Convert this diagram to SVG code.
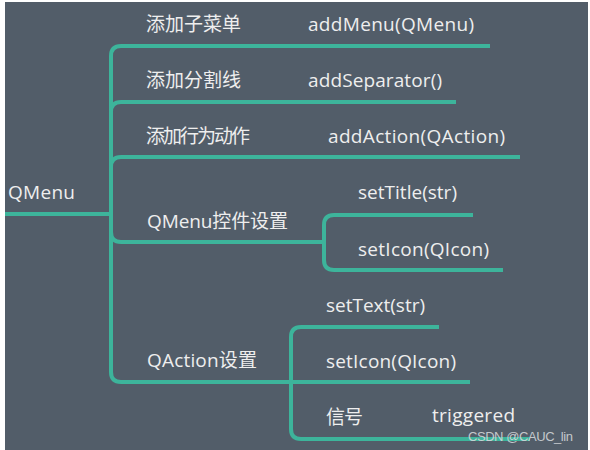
<svg xmlns="http://www.w3.org/2000/svg" width="590" height="450" viewBox="0 0 590 450">
<style>
.bg{fill:#525d69}
.ln{fill:none;stroke:#3db49b;stroke-width:4;stroke-linecap:butt;stroke-linejoin:round}
text{font-family:"Open Sans","Noto Sans CJK SC",sans-serif;font-size:19px;fill:#eeeeee}
.wm{font-family:"Liberation Sans",Arial,sans-serif;font-size:13px;fill:#d8dbde;opacity:0.85}
</style>
<rect x="0" y="0" width="590" height="450" fill="#ffffff"/>
<rect class="bg" x="5" y="2" width="583" height="448"/>
<g id="connectors">
<path class="ln" d="M5 214 H111"/>
<path class="ln" d="M111 214 V56 Q111 46 121 46 H490"/>
<path class="ln" d="M111 214 V112 Q111 102 121 102 H456"/>
<path class="ln" d="M111 214 V167 Q111 157 121 157 H520"/>
<path class="ln" d="M111 214 V232 Q111 242 121 242 H324"/>
<path class="ln" d="M111 214 V372 Q111 382 121 382 H291"/>
<path class="ln" d="M324 242 V225 Q324 215 334 215 H473"/>
<path class="ln" d="M324 242 V260 Q324 270 334 270 H503"/>
<path class="ln" d="M291 382 V337 Q291 327 301 327 H439"/>
<path class="ln" d="M291 382 H470"/>
<path class="ln" d="M291 382 V429 Q291 439 301 439 H530"/>
</g>
<g id="root"><text x="8" y="199" textLength="67">QMenu</text></g>
<g id="n-addmenu">
<text x="146" y="31">添加子菜单</text>
<text x="308" y="31" textLength="166">addMenu(QMenu)</text>
</g>
<g id="n-addsep">
<text x="146" y="87">添加分割线</text>
<text x="308" y="87" textLength="134">addSeparator()</text>
</g>
<g id="n-addaction">
<text x="146" y="143" textLength="104">添加行为动作</text>
<text x="328" y="143" textLength="177">addAction(QAction)</text>
</g>
<g id="n-qmenu-settings">
<text x="147" y="228" textLength="141">QMenu控件设置</text>
</g>
<g id="n-settitle"><text x="358" y="199" textLength="99">setTitle(str)</text></g>
<g id="n-seticon1"><text x="358" y="256" textLength="131">setIcon(QIcon)</text></g>
<g id="n-qaction-settings">
<text x="147" y="367" textLength="110">QAction设置</text>
</g>
<g id="n-settext"><text x="326" y="312" textLength="99">setText(str)</text></g>
<g id="n-seticon2"><text x="326" y="368" textLength="130">setIcon(QIcon)</text></g>
<g id="n-signal">
<text x="326" y="424" textLength="37">信号</text>
<text x="432" y="422" textLength="83">triggered</text>
</g>
<text class="wm" x="468" y="441" textLength="105">CSDN @CAUC_lin</text>
</svg>
